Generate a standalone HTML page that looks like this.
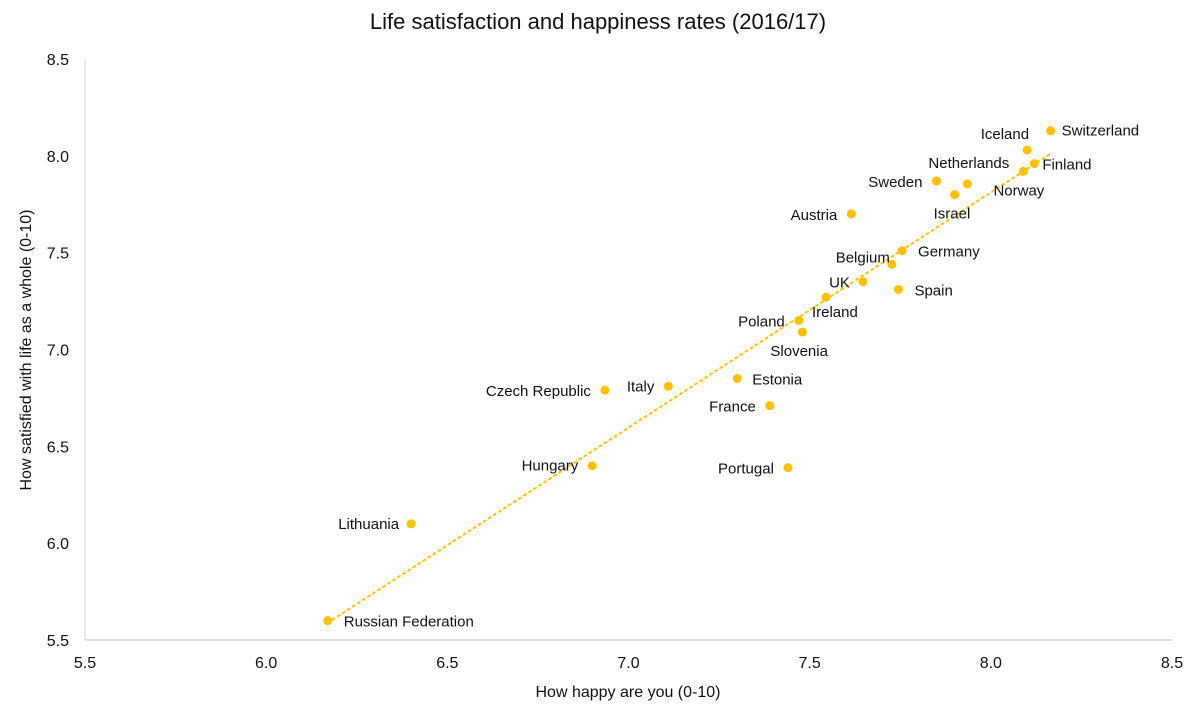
<!DOCTYPE html>
<html><head><meta charset="utf-8"><style>
html,body{margin:0;padding:0;background:#fff;}
svg{display:block;font-family:"Liberation Sans",Arial,sans-serif;}
</style></head><body>
<svg id="chart" width="1200" height="720" viewBox="0 0 1200 720">
<text x="598" y="29" text-anchor="middle" font-size="22" fill="#111">Life satisfaction and happiness rates (2016/17)</text>
<g id="axes"></g>
<g id="trend"></g>
<g id="points"></g>
<text x="628" y="697" text-anchor="middle" font-size="16" fill="#111">How happy are you (0-10)</text>
<text transform="translate(31,350) rotate(-90)" text-anchor="middle" font-size="16" fill="#111">How satisfied with life as a whole (0-10)</text>
</svg>
<script>
const countries = ["Russian Federation","Lithuania","Hungary","Czech Republic","Italy","Estonia","France","Portugal","Slovenia","Poland","Ireland","UK","Belgium","Germany","Spain","Austria","Sweden","Israel","Netherlands","Norway","Iceland","Finland","Switzerland"];
const happiness = [6.17,6.40,6.90,6.935,7.11,7.30,7.39,7.44,7.48,7.47,7.545,7.647,7.727,7.755,7.745,7.615,7.85,7.90,7.935,8.09,8.10,8.12,8.165];
const satisfaction = [5.60,6.10,6.40,6.79,6.81,6.85,6.71,6.39,7.09,7.15,7.27,7.35,7.44,7.51,7.31,7.70,7.87,7.80,7.855,7.92,8.03,7.96,8.13];
const xTicks = ["5.5","6.0","6.5","7.0","7.5","8.0","8.5"];
const yTicks = ["5.5","6.0","6.5","7.0","7.5","8.0","8.5"];
// label placement (style): [anchor, dx, dy]
const labelOffsets = [["start",16,6],["end",-12,5],["end",-14,5],["end",-14,6],["end",-14,5],["start",15,6],["end",-14,6],["end",-14,6],["start",-32,24],["end",-14,6],["start",-14,20],["end",-13,6],["end",-2,-2],["start",16,6],["start",16,6],["end",-14,6],["end",-14,6],["start",-21,24],["end",42,-16],["start",-30,24],["end",2,-11],["start",8,6],["start",11,5]];

const NS="http://www.w3.org/2000/svg";
const COL="#FFC000";
const X0=85,X1=1172,Y0=640,Y1=59;
const xs=v=>X0+(v-5.5)/3*(X1-X0);
const ys=v=>Y0-(v-5.5)/3*(Y0-Y1);
function mk(tag,attrs,parent){const e=document.createElementNS(NS,tag);for(const k in attrs)e.setAttribute(k,attrs[k]);parent.appendChild(e);return e;}
const axes=document.getElementById('axes');
let l=mk('line',{x1:X0,y1:Y1,x2:X0,y2:Y0,stroke:'#d9d9d9','stroke-width':1},axes);


l=mk('line',{x1:X0,y1:Y0,x2:X1,y2:Y0,stroke:'#bfbfbf','stroke-width':1},axes);


xTicks.forEach(t=>{const e=mk('text',{x:xs(+t),y:668,'text-anchor':'middle','font-size':16,fill:'#111'},axes);e.textContent=t;

});
yTicks.forEach(t=>{const e=mk('text',{x:69,y:ys(+t)+6,'text-anchor':'end','font-size':16,fill:'#111'},axes);e.textContent=t;

});
// trendline (least squares)
const n=happiness.length;let mx=0,my=0;for(let i=0;i<n;i++){mx+=happiness[i];my+=satisfaction[i];}mx/=n;my/=n;
let sxy=0,sxx=0;for(let i=0;i<n;i++){sxy+=(happiness[i]-mx)*(satisfaction[i]-my);sxx+=(happiness[i]-mx)**2;}
const b=sxy/sxx,a=my-b*mx;const xmin=Math.min(...happiness),xmax=Math.max(...happiness);
const tl=mk('line',{x1:xs(xmin),y1:ys(a+b*xmin),x2:xs(xmax),y2:ys(a+b*xmax),stroke:COL,'stroke-width':2,'stroke-dasharray':'2 4','stroke-linecap':'round'},document.getElementById('trend'));


const pg=document.getElementById('points');
countries.forEach((c,i)=>{const cx=xs(happiness[i]),cy=ys(satisfaction[i]);
const p=mk('circle',{cx:cx,cy:cy,r:4.5,fill:COL},pg);


const o=labelOffsets[i];
const t=mk('text',{x:cx+o[1],y:cy+o[2],'text-anchor':o[0],'font-size':15,fill:'#111'},pg);t.textContent=c;

});
</script>
</body></html>
